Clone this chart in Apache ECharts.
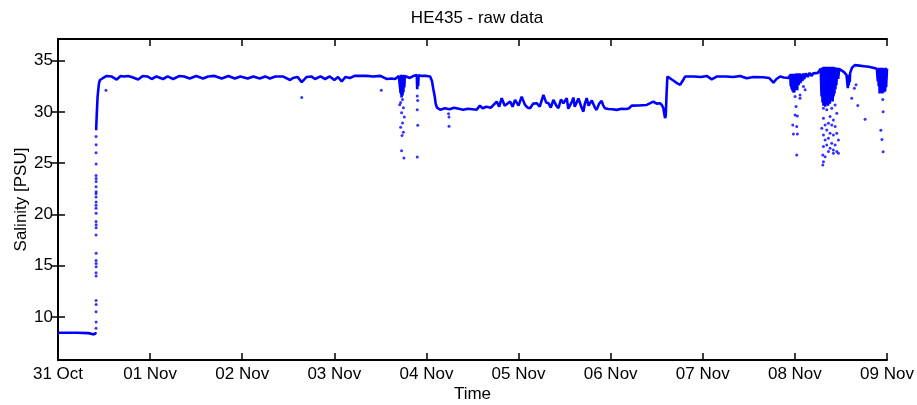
<!DOCTYPE html>
<html>
<head>
<meta charset="utf-8">
<script src="https://cdn.jsdelivr.net/npm/echarts@6/dist/echarts.min.js"></script>
<style>
html,body{margin:0;padding:0;background:#fff;}
#chart{width:917px;height:405px;}
</style>
</head>
<body>
<div id="chart"></div>
<script>
// Tick labels
const dayLabels = ["31 Oct","01 Nov","02 Nov","03 Nov","04 Nov","05 Nov","06 Nov","07 Nov","08 Nov","09 Nov"];
const salTicks = [10, 15, 20, 25, 30, 35];

// Main trace: time in days since 31 Oct 00:00, salinity in PSU (null = gap)
const mainDay = [
  0.00, 0.20, 0.33, 0.38, 0.405, 0.412, 0.413, 0.414, 0.42, 0.43, 0.445, 0.456, 0.49, 0.53, 0.58, 0.637, 0.68, 0.72, 0.76, 0.80, 0.87, 0.92,
  0.97, 1.017, 1.07, 1.14, 1.19, 1.25, 1.32, 1.37, 1.43, 1.50, 1.575, 1.63, 1.70, 1.777, 1.85, 1.92, 1.98, 2.06, 2.12, 2.19,
  2.25, 2.30, 2.36, 2.44, 2.52, 2.55, 2.60, 2.646, 2.70, 2.75, 2.79, 2.85, 2.90, 2.95, 3.00, 3.04, 3.08, 3.12, 3.17, 3.22,
  3.28, 3.35, 3.42, 3.50, 3.57, 3.62, 3.66, 3.70, 3.715, 3.72, 3.725, 3.73, 3.735, 3.74, 3.745, 3.75, 3.755, 3.76, 3.765, 3.78,
  3.82, 3.86, 3.895, 3.90, 3.905, 3.91, 3.915, 3.95, 4.00, 4.04, 4.06, 4.075, 4.09, 4.10, 4.115, 4.15, 4.20, 4.25, 4.30, 4.35,
  4.40, 4.45, 4.50, 4.545, 4.58, 4.61, 4.65, 4.70, 4.763, 4.79, 4.817, 4.85, 4.908, 4.935, 4.962, 5.00, 5.034, 5.07, 5.10, 5.125,
  5.16, 5.197, 5.23, 5.27, 5.30, 5.324, 5.35, 5.378, 5.41, 5.433, 5.46, 5.487, 5.523, 5.54, 5.559, 5.58, 5.595, 5.61, 5.631, 5.65,
  5.667, 5.685, 5.704, 5.72, 5.74, 5.76, 5.776, 5.795, 5.812, 5.83, 5.848, 5.875, 5.902, 5.92, 5.938, 5.975, 6.02, 6.065, 6.12, 6.174,
  6.20, 6.228, 6.30, 6.391, 6.43, 6.463, 6.50, 6.536, 6.56, 6.572, 6.59, 6.598, 6.607, 6.616, 6.64, 6.68, 6.72, 6.754, 6.78, 6.808,
  6.90, 6.98, 7.043, 7.097, 7.15, 7.25, 7.33, 7.405, 7.477, 7.55, 7.655, 7.72, 7.767, 7.80, 7.839, 7.88, 7.93, 7.95, 7.955, 7.96,
  7.965, 7.97, 7.975, 7.98, 7.985, 7.99, 7.995, 8.00, 8.005, 8.01, 8.015, 8.02, 8.025, 8.03, 8.04, 8.05, 8.06, 8.07, 8.08, 8.09,
  8.10, 8.12, 8.14, 8.16, 8.18, 8.20, 8.22, 8.25, 8.27, 8.28, 8.29, 8.295, 8.30, 8.305, 8.31, 8.315, 8.32, 8.325, 8.33, 8.335,
  8.34, 8.345, 8.35, 8.355, 8.36, 8.365, 8.37, 8.375, 8.38, 8.385, 8.39, 8.395, 8.40, 8.405, 8.41, 8.415, 8.42, 8.425, 8.43, 8.435,
  8.44, 8.445, 8.45, 8.46, 8.47, 8.48, 8.50, 8.53, 8.56, 8.575, 8.58, 8.585, 8.59, 8.595, 8.60, 8.62, 8.65, 8.70, 8.75, 8.80,
  8.85, 8.89, 8.90, 8.905, 8.91, 8.915, 8.92, 8.925, 8.93, 8.935, 8.94, 8.945, 8.95, 8.955, 8.96, 8.965, 8.97, 8.975, 8.98, 8.985,
  8.99, 9.00
];
const mainSal = [
  8.45, 8.45, 8.42, 8.30, 8.35, 8.50, null, 28.2, 29.6, 31.5, 32.8, 33.1, 33.3, 33.5, 33.45, 33.15, 33.5, 33.45, 33.5, 33.4, 33.15, 33.5,
  33.45, 33.2, 33.45, 33.2, 33.45, 33.2, 33.5, 33.45, 33.25, 33.5, 33.25, 33.45, 33.5, 33.25, 33.5, 33.25, 33.45, 33.25, 33.45, 33.25,
  33.45, 33.25, 33.45, 33.45, 33.1, 33.3, 33.4, 32.9, 33.4, 33.45, 33.2, 33.45, 33.2, 33.45, 33.1, 33.4, 32.95, 33.4, 33.3, 33.5,
  33.5, 33.5, 33.45, 33.5, 33.2, 33.25, 33.2, 33.5, 33.6, 31.8, 33.6, 31.4, 33.5, 31.6, 33.6, 31.9, 33.5, 32.4, 33.5, 33.4,
  33.3, 33.5, 33.6, 32.2, 33.5, 32.5, 33.55, 33.5, 33.5, 33.45, 33.0, 32.2, 31.5, 30.8, 30.4, 30.2, 30.35, 30.25, 30.4, 30.3,
  30.2, 30.3, 30.25, 30.2, 30.6, 30.35, 30.5, 30.4, 31.0, 30.5, 31.33, 30.6, 31.0, 30.5, 31.16, 30.6, 31.48, 30.67, 30.4, 30.35,
  30.8, 30.84, 30.5, 31.65, 30.9, 30.84, 30.4, 31.16, 30.6, 30.35, 31.2, 30.84, 31.33, 30.3, 30.19, 31.0, 31.39, 30.5, 30.35, 31.3,
  31.48, 30.4, 30.02, 30.8, 31.33, 30.6, 30.67, 31.1, 31.0, 30.4, 30.19, 30.8, 31.06, 30.6, 30.35, 30.28, 30.25, 30.19, 30.3, 30.28,
  30.35, 30.6, 30.62, 30.67, 30.85, 31.0, 30.8, 30.84, 30.6, 30.35, 29.4, 29.6, 31.8, 33.44, 33.3, 33.05, 32.8, 32.63, 33.0, 33.44,
  33.45, 33.4, 33.5, 33.17, 33.44, 33.45, 33.4, 33.5, 33.27, 33.4, 33.37, 33.3, 32.85, 33.2, 33.44, 33.35, 33.3, 33.6, 32.5, 33.7,
  32.2, 33.7, 32.0, 33.7, 32.3, 33.7, 31.9, 33.7, 32.2, 33.7, 32.4, 33.75, 32.1, 33.7, 32.6, 33.75, 32.8, 33.7, 33.0, 33.75,
  33.2, 33.75, 33.4, 33.8, 33.5, 33.75, 33.6, 33.8, 33.9, 34.2, 31.5, 34.3, 30.9, 34.35, 30.6, 34.4, 30.8, 34.35, 30.5, 34.4,
  30.7, 34.35, 30.9, 34.4, 30.6, 34.35, 31.0, 34.4, 30.8, 34.35, 31.1, 34.4, 31.3, 34.35, 31.0, 34.4, 31.5, 34.3, 31.8, 34.35,
  32.2, 34.3, 32.6, 34.3, 33.2, 34.2, 34.1, 33.9, 33.6, 32.3, 33.5, 32.6, 33.6, 32.9, 33.8, 34.3, 34.55, 34.5, 34.45, 34.4,
  34.3, 34.2, 33.0, 34.2, 32.5, 34.3, 31.8, 34.2, 31.9, 34.3, 32.1, 34.2, 31.8, 34.3, 32.3, 34.2, 31.9, 34.2, 32.0, 34.3,
  32.4, 34.2
];

// Scattered raw-data outliers
const outDay = [
  0.413, 0.414, 0.413, 0.414, 0.413, 0.414, 0.413, 0.414, 0.413, 0.414, 0.413, 0.414, 0.413, 0.414, 0.413, 0.414, 0.413, 0.414, 0.413, 0.414,
  0.413, 0.414, 0.413, 0.414, 0.413, 0.414, 0.413, 0.414, 0.413, 0.414,
  0.521, 2.646, 3.51,
  3.73, 3.74, 3.72, 3.75, 3.73, 3.76, 3.74, 3.72, 3.75, 3.735, 3.73, 3.755, 3.71,
  3.90, 3.905, 3.90, 3.905, 3.90,
  4.245, 4.245, 4.24,
  8.002, 8.056, 8.013, 8.002, 8.027, 7.977, 8.020, 7.984, 8.027, 8.020, 8.093, 8.111, 8.056, 7.966, 7.984,
  8.310, 8.346, 8.400, 8.437, 8.455, 8.310, 8.382, 8.418, 8.364, 8.328, 8.400, 8.292, 8.346, 8.437, 8.382, 8.310, 8.418, 8.364, 8.455, 8.328,
  8.400, 8.473, 8.346, 8.437, 8.310, 8.382, 8.418, 8.455, 8.473, 8.418, 8.303, 8.328, 8.310, 8.303, 8.364,
  8.617, 8.683, 8.762, 8.646, 8.664,
  8.933, 8.954, 8.958, 8.933, 8.945, 8.958
];
const outSal = [
  8.9, 9.5, 10.5, 11.2, 11.6, 14.0, 14.3, 14.9, 15.5, 16.2, 18.0, 18.7, 19.3, 20.1, 20.6, 21.2, 21.7, 22.2, 22.7, 23.2,
  23.8, 24.9, 26.0, 26.8, 27.6, 19.0, 22.0, 15.2, 20.9, 23.5,
  32.1, 31.4, 32.1,
  31.8, 31.2, 30.9, 30.4, 29.9, 29.5, 28.9, 28.5, 28.0, 27.7, 26.2, 25.5, 30.7,
  31.55, 31.1, 30.2, 28.7, 25.6,
  28.6, 29.5, 29.8,
  31.49, 31.65, 30.51, 29.70, 29.60, 28.72, 28.56, 27.84, 27.84, 25.79, 32.47, 32.14, 31.33, 32.47, 31.98,
  30.35, 30.19, 30.35, 30.67, 29.86, 29.37, 29.54, 29.21, 28.88, 28.72, 28.72, 28.40, 28.23, 28.56, 27.91, 27.74, 27.74, 27.42, 27.91, 27.26,
  26.93, 27.26, 26.77, 26.77, 26.61, 26.44, 26.28, 26.12, 25.95, 25.95, 25.79, 25.63, 25.14, 24.82, 26.12,
  31.33, 30.61, 29.27, 32.30, 32.63,
  32.1, 31.2, 30.0, 28.2, 27.3, 26.1
];

const mainData = mainDay.map((d, i) => [d, mainSal[i] === null ? '-' : mainSal[i]]);
const outData = outDay.map((d, i) => [d, outSal[i]]);

const FONT = "Liberation Sans, Arial, sans-serif";
const FS = 17;
const axisLineStyle = { color: "#000", width: 2 };
const tickStyle = { color: "#000", width: 1.5 };

const chart = echarts.init(document.getElementById("chart"), null, { renderer: "canvas" });
chart.setOption({
  animation: false,
  backgroundColor: "#fff",
  textStyle: { fontFamily: FONT },
  title: {
    text: "HE435 - raw data",
    left: 472, top: 5, textAlign: "center",
    textStyle: { fontFamily: FONT, fontSize: FS, fontWeight: "normal", color: "#000" }
  },
  grid: { left: 58, right: 30, top: 39, bottom: 45, containLabel: false, outerBoundsMode: "none" },
  xAxis: [
    {
      type: "value", min: 0, max: 9, interval: 1, position: "bottom",
      name: "Time", nameLocation: "middle", nameGap: 26, nameMoveOverlap: false,
      nameTextStyle: { fontFamily: FONT, fontSize: FS, color: "#000" },
      axisLine: { lineStyle: axisLineStyle },
      axisTick: { inside: true, length: 7, lineStyle: tickStyle },
      axisLabel: { fontFamily: FONT, fontSize: FS, color: "#000", margin: 6,
        formatter: v => dayLabels[Math.round(v)] },
      splitLine: { show: false }
    },
    {
      type: "value", min: 0, max: 9, interval: 1, position: "top",
      axisLine: { lineStyle: axisLineStyle },
      axisTick: { inside: true, length: 7, lineStyle: tickStyle },
      axisLabel: { show: false },
      splitLine: { show: false }
    }
  ],
  yAxis: [
    {
      type: "value", min: 5.8, max: 37.1, position: "left",
      name: "Salinity [PSU]", nameLocation: "middle", nameGap: 28, nameMoveOverlap: false,
      nameTextStyle: { fontFamily: FONT, fontSize: FS, color: "#000" },
      axisLine: { show: true, lineStyle: axisLineStyle },
      axisTick: { show: true, inside: true, length: 7, customValues: salTicks, lineStyle: tickStyle },
      axisLabel: { fontFamily: FONT, fontSize: FS, color: "#000", margin: 5, customValues: salTicks },
      splitLine: { show: false }
    },
    {
      type: "value", min: 5.8, max: 37.1, position: "right",
      axisLine: { show: true, lineStyle: axisLineStyle },
      axisTick: { show: true, inside: true, length: 7, customValues: salTicks, lineStyle: tickStyle },
      axisLabel: { show: false, customValues: salTicks },
      splitLine: { show: false }
    }
  ],
  series: [
    {
      type: "scatter", data: outData, xAxisIndex: 0, yAxisIndex: 0,
      symbol: "circle", symbolSize: 3, itemStyle: { color: "#0000FF" }, silent: true
    },
    {
      type: "line", data: mainData, xAxisIndex: 0, yAxisIndex: 0,
      showSymbol: false, symbol: "none", connectNulls: false,
      lineStyle: { color: "#0000FF", width: 2.6 }, silent: true
    }
  ]
});
</script>
</body>
</html>
